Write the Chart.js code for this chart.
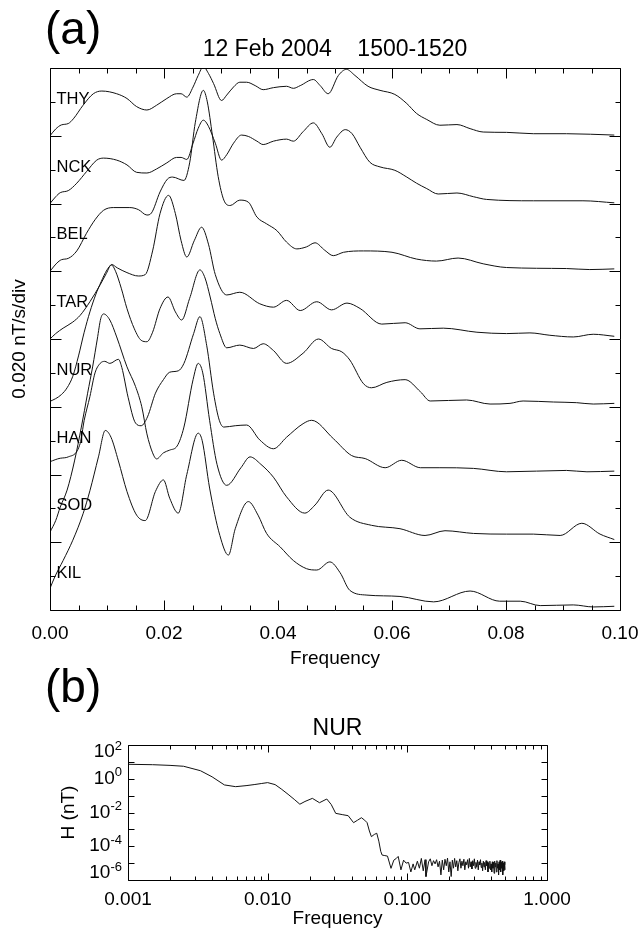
<!DOCTYPE html>
<html><head><meta charset="utf-8">
<script src="https://cdn.jsdelivr.net/npm/chart.js@4.4.1/dist/chart.umd.min.js"></script>
<style>
html,body{margin:0;padding:0;background:#fff;}
#wrap{position:relative;width:640px;height:931px;overflow:hidden;background:#fff;}
#ca{position:absolute;left:0;top:0;width:640px;height:680px;}
#cb{position:absolute;left:0;top:680px;width:640px;height:251px;}
.plab{position:absolute;left:45px;font-family:'Liberation Sans',Arial,sans-serif;font-size:46px;line-height:46px;color:#000;}
</style></head><body>
<div id="wrap">
<canvas id="ca" width="640" height="680"></canvas>
<canvas id="cb" width="640" height="251"></canvas>
<div class="plab" style="top:5px">(a)</div>
<div class="plab" style="top:663px">(b)</div>
</div>
<script>
// ---------- Panel (a): dH/dt amplitude spectra, nT/s, stacked 0.020 nT/s per division ----------
const titleA = '12 Feb 2004    1500-1520';
const stationNames = ['THY','NCK','BEL','TAR','NUR','HAN','SOD','KIL'];
const DIV = 0.020; // nT/s per division
const THY = [[0,0],[0.001,0.0020],[0.002,0.0032],[0.0032,0.0036],[0.0041,0.0050],[0.0058,0.0090],[0.0076,0.0124],[0.0091,0.0132],[0.0117,0.0124],[0.0135,0.0110],[0.0152,0.0086],[0.017,0.0076],[0.0187,0.0090],[0.0205,0.0110],[0.0222,0.0124],[0.023,0.0124],[0.024,0.0114],[0.0251,0.0144],[0.026,0.0178],[0.0269,0.0204],[0.0278,0.0184],[0.0287,0.0154],[0.0301,0.0104],[0.031,0.0120],[0.0322,0.0144],[0.0333,0.0158],[0.0345,0.0158],[0.036,0.0148],[0.0374,0.0136],[0.0392,0.0142],[0.0415,0.0146],[0.0427,0.0140],[0.0439,0.0148],[0.0462,0.0166],[0.0474,0.0148],[0.0488,0.0124],[0.0506,0.0178],[0.052,0.0196],[0.0535,0.0178],[0.0558,0.0146],[0.0579,0.0134],[0.0605,0.0122],[0.0626,0.0095],[0.0643,0.0066],[0.0661,0.0048],[0.0684,0.0031],[0.0714,0.0033],[0.0737,0.0021],[0.076,0.0011],[0.0801,0.0010],[0.0848,0.0006],[0.0906,0.0006],[0.099,0.0002]];
const NCK = [[0,0],[0.001,0.0020],[0.0018,0.0032],[0.0032,0.0038],[0.0047,0.0060],[0.0064,0.0094],[0.0082,0.0128],[0.0094,0.0134],[0.0117,0.0128],[0.0135,0.0114],[0.0152,0.0092],[0.017,0.0090],[0.0187,0.0102],[0.0205,0.0120],[0.0222,0.0136],[0.023,0.0136],[0.024,0.0130],[0.0251,0.0178],[0.026,0.0222],[0.0269,0.0246],[0.0278,0.0228],[0.029,0.0178],[0.0301,0.0128],[0.031,0.0144],[0.0322,0.0178],[0.0336,0.0202],[0.0348,0.0198],[0.0363,0.0184],[0.0374,0.0174],[0.0392,0.0184],[0.0415,0.0190],[0.0427,0.0184],[0.0444,0.0212],[0.0462,0.0238],[0.0477,0.0206],[0.0491,0.0166],[0.0503,0.0196],[0.0518,0.0218],[0.053,0.0206],[0.0544,0.0166],[0.0561,0.0122],[0.0579,0.0108],[0.0605,0.0098],[0.0626,0.0078],[0.0643,0.0060],[0.0661,0.0044],[0.0681,0.0028],[0.0714,0.0031],[0.0743,0.0020],[0.0766,0.0012],[0.0848,0.0008],[0.0935,0.0008],[0.099,0.0002]];
const BEL = [[0,0],[0.0012,0.0024],[0.002,0.0034],[0.0032,0.0038],[0.0047,0.0060],[0.0064,0.0112],[0.0079,0.0152],[0.0094,0.0180],[0.0111,0.0188],[0.014,0.0188],[0.0155,0.0182],[0.017,0.0166],[0.0178,0.0172],[0.0193,0.0234],[0.0206,0.0272],[0.0215,0.0278],[0.0235,0.0268],[0.0245,0.0320],[0.0255,0.0440],[0.0269,0.0534],[0.0276,0.0500],[0.0285,0.0400],[0.0295,0.0280],[0.0305,0.0210],[0.0316,0.0194],[0.0333,0.0210],[0.0348,0.0204],[0.0363,0.0160],[0.038,0.0140],[0.0398,0.0120],[0.0415,0.0086],[0.0433,0.0066],[0.045,0.0072],[0.0465,0.0084],[0.0482,0.0062],[0.0497,0.0046],[0.0515,0.0056],[0.055,0.0060],[0.06,0.0056],[0.0643,0.0036],[0.0678,0.0030],[0.0716,0.0039],[0.076,0.0022],[0.0801,0.0011],[0.0906,0.0008],[0.0947,0.0005],[0.099,0.0007]];
const TAR = [[0,0],[0.001,0.0016],[0.0023,0.0032],[0.004,0.0050],[0.0053,0.0070],[0.007,0.0110],[0.0088,0.0160],[0.0099,0.0194],[0.0108,0.0220],[0.0118,0.0210],[0.0135,0.0196],[0.0155,0.0186],[0.0167,0.0190],[0.018,0.0260],[0.0193,0.0370],[0.0208,0.0424],[0.022,0.0370],[0.023,0.0290],[0.024,0.0242],[0.0253,0.0290],[0.0266,0.0330],[0.0278,0.0280],[0.029,0.0190],[0.031,0.0130],[0.0333,0.0138],[0.0368,0.0104],[0.0392,0.0094],[0.0415,0.0114],[0.0439,0.0084],[0.0468,0.0110],[0.0494,0.0086],[0.0521,0.0106],[0.0544,0.0090],[0.0582,0.0044],[0.0623,0.0048],[0.0649,0.0030],[0.069,0.0032],[0.0749,0.0020],[0.0801,0.0016],[0.0842,0.0018],[0.0877,0.0011],[0.0918,0.0006],[0.0953,0.0014],[0.099,0.0008]];
const NUR = [[0,0.0016],[0.001,0.0024],[0.002,0.0036],[0.003,0.0056],[0.004,0.0090],[0.005,0.0150],[0.006,0.0220],[0.007,0.0280],[0.008,0.0330],[0.009,0.0370],[0.010,0.0404],[0.0108,0.0418],[0.0115,0.0400],[0.0125,0.0350],[0.0135,0.0290],[0.0148,0.0230],[0.016,0.0196],[0.017,0.0192],[0.018,0.0220],[0.0193,0.0290],[0.0207,0.0324],[0.022,0.0280],[0.0231,0.0256],[0.0245,0.0320],[0.0263,0.0404],[0.0272,0.0380],[0.0281,0.0324],[0.029,0.0260],[0.0298,0.0216],[0.031,0.0174],[0.0333,0.0182],[0.0357,0.0172],[0.0374,0.0186],[0.0392,0.0166],[0.0415,0.0128],[0.0444,0.0158],[0.0471,0.0200],[0.0494,0.0172],[0.0512,0.0162],[0.0526,0.0138],[0.055,0.0068],[0.0564,0.0056],[0.0591,0.0072],[0.0623,0.0080],[0.065,0.0044],[0.0667,0.0017],[0.0731,0.0020],[0.0772,0.0008],[0.0807,0.0010],[0.083,0.0017],[0.0883,0.0014],[0.0924,0.0012],[0.0953,0.0008],[0.099,0.0010]];
const HAN = [[0,0.0038],[0.0018,0.0048],[0.0032,0.0052],[0.0053,0.0092],[0.006,0.0160],[0.007,0.0230],[0.0079,0.0300],[0.0088,0.0328],[0.0096,0.0334],[0.0105,0.0328],[0.012,0.0340],[0.0126,0.0316],[0.0137,0.0228],[0.015,0.0152],[0.016,0.0144],[0.0171,0.0170],[0.0185,0.0240],[0.0199,0.0280],[0.021,0.0302],[0.0225,0.0306],[0.0235,0.0328],[0.0252,0.0416],[0.0263,0.0466],[0.0275,0.0380],[0.0287,0.0240],[0.0297,0.0160],[0.0305,0.0140],[0.0325,0.0144],[0.0345,0.0146],[0.0368,0.0102],[0.0392,0.0076],[0.0415,0.0110],[0.0444,0.0150],[0.0459,0.0160],[0.0497,0.0106],[0.0529,0.0056],[0.0553,0.0047],[0.0588,0.0020],[0.0617,0.0042],[0.065,0.0020],[0.0684,0.0020],[0.0743,0.0018],[0.0801,0.0008],[0.0906,0.0012],[0.0942,0.0008],[0.099,0.0010]];
const SOD = [[0,0.0030],[0.001,0.0064],[0.0018,0.0104],[0.003,0.0154],[0.0043,0.0240],[0.0055,0.0340],[0.0066,0.0440],[0.0075,0.0520],[0.0083,0.0600],[0.0089,0.0660],[0.0094,0.0674],[0.0105,0.0656],[0.0117,0.0606],[0.0135,0.0518],[0.015,0.0460],[0.0161,0.0400],[0.017,0.0320],[0.018,0.0264],[0.0187,0.0246],[0.0199,0.0264],[0.021,0.0272],[0.0223,0.0284],[0.0235,0.0340],[0.0251,0.0480],[0.026,0.0528],[0.0268,0.0500],[0.028,0.0360],[0.0293,0.0230],[0.031,0.0168],[0.0335,0.0220],[0.0351,0.0252],[0.037,0.0230],[0.0392,0.0192],[0.0415,0.0134],[0.0447,0.0086],[0.0465,0.0110],[0.0488,0.0154],[0.0526,0.0074],[0.0564,0.0050],[0.0614,0.0040],[0.0658,0.0020],[0.0693,0.0034],[0.0743,0.0026],[0.0801,0.0024],[0.0848,0.0024],[0.0895,0.0020],[0.0933,0.0056],[0.0965,0.0024],[0.099,0.0008]];
const KIL = [[0,0.0064],[0.0009,0.0100],[0.0023,0.0146],[0.004,0.0206],[0.0058,0.0284],[0.007,0.0352],[0.0085,0.0452],[0.0097,0.0530],[0.0107,0.0510],[0.012,0.0440],[0.0135,0.0350],[0.0152,0.0280],[0.0167,0.0264],[0.0185,0.0350],[0.0199,0.0384],[0.021,0.0330],[0.0225,0.0286],[0.024,0.0400],[0.026,0.0522],[0.0267,0.0500],[0.028,0.0360],[0.0298,0.0220],[0.0313,0.0162],[0.0325,0.0240],[0.0348,0.0320],[0.0365,0.0280],[0.038,0.0226],[0.0404,0.0186],[0.0427,0.0146],[0.045,0.0122],[0.0468,0.0118],[0.0491,0.0142],[0.0509,0.0110],[0.0526,0.0058],[0.0556,0.0044],[0.0614,0.0040],[0.0673,0.0024],[0.0737,0.0056],[0.0789,0.0026],[0.0825,0.0026],[0.086,0.0013],[0.0918,0.0015],[0.0953,0.0009],[0.099,0.0011]];
const stationSpectra = [THY, NCK, BEL, TAR, NUR, HAN, SOD, KIL];
const xMajorA = [0, 0.02, 0.04, 0.06, 0.08, 0.10];
const xMinorA = [0.005,0.010,0.015,0.025,0.030,0.035,0.045,0.050,0.055,0.065,0.070,0.075,0.085,0.090,0.095];
const yMajorA = [0,0.02,0.04,0.06,0.08,0.10,0.12,0.14,0.16];
const yMinorA = [0.01,0.03,0.05,0.07,0.09,0.11,0.13,0.15];

// ---------- Panel (b): NUR amplitude spectrum, nT ----------
const titleB = 'NUR';
const nurSpectrum = [[0.001,7.2],[0.0015,6.8],[0.002,6.2],[0.0025,5.5],[0.0033,3.0],[0.004,1.3],[0.0049,0.43],[0.0059,0.34],[0.007,0.39],[0.008,0.45],[0.009,0.52],[0.010,0.59],[0.0113,0.45],[0.0125,0.25],[0.014,0.12],[0.0155,0.06],[0.017,0.031],[0.0185,0.045],[0.0209,0.069],[0.0235,0.038],[0.0265,0.063],[0.0285,0.03],[0.0307,0.0089],[0.0345,0.0074],[0.0377,0.0065],[0.0412,0.0025],[0.044,0.0035],[0.0469,0.0049],[0.0495,0.0035],[0.0515,0.0025],[0.0535,0.0008],[0.0553,0.00037],[0.058,0.0005],[0.0604,0.00059],[0.0625,0.0002],[0.0645,0.00005],[0.066,0.00003],[0.069,0.000028],[0.0721,0.000026],[0.0764,0.0000049],[0.08,0.000015],[0.0834,0.000019],
[0.086,2.5e-5],[0.090,4.0e-6],[0.094,1.5e-5],[0.098,1.0e-5],[0.102,1.1e-5],[0.106,3.0e-6],[0.110,9.0e-6],[0.113,4.0e-6],[0.118,1.3e-5],[0.122,5.0e-6],[0.126,1.9e-5],[0.130,3.5e-6],[0.134,1.6e-5],[0.136,1.6e-6],[0.142,1.2e-5],[0.146,1.8e-5],[0.150,7.0e-6],[0.154,1.4e-5],[0.158,9.0e-6],[0.162,1.6e-5],[0.166,6.0e-6],[0.170,1.3e-5],[0.174,2.0e-6],[0.178,1.5e-5],[0.182,4.0e-6],[0.186,1.7e-5],[0.190,7.0e-6],[0.194,2.0e-5],[0.198,3.0e-6],[0.202,1.2e-5],[0.206,1.6e-6],[0.210,1.5e-5],[0.214,5.0e-6],[0.218,1.9e-5],[0.222,6.0e-6],[0.226,1.4e-5],[0.230,3.5e-6],[0.234,1.1e-5],[0.238,1.8e-5],[0.242,5.0e-6],[0.246,1.3e-5],[0.250,7.0e-6],[0.254,1.7e-5],[0.258,4.0e-6],[0.262,1.2e-5],[0.266,8.0e-6],[0.270,1.6e-5],[0.274,5.0e-6],[0.278,1.9e-5],[0.282,6.0e-6],[0.286,1.2e-5],[0.290,4.5e-6],[0.294,1.4e-5],[0.298,7.0e-6],[0.302,1.8e-5],[0.306,5.0e-6],[0.310,1.1e-5],[0.314,6.0e-6],[0.318,1.5e-5],[0.322,4.0e-6],[0.326,1.2e-5],[0.330,8.0e-6],[0.334,1.6e-5],[0.338,5.5e-6],[0.342,1.0e-5],[0.346,3.5e-6],[0.350,1.3e-5],[0.354,6.0e-6],[0.358,1.1e-5],[0.362,4.0e-6],[0.366,1.4e-5],[0.370,7.0e-6],[0.374,1.2e-5],[0.378,3.0e-6],[0.382,1.0e-5],[0.386,5.0e-6],[0.390,1.3e-5],[0.394,4.0e-6],[0.398,9.0e-6],[0.402,3.0e-6],[0.406,1.2e-5],[0.410,5.0e-6],[0.414,1.1e-5],[0.418,2.5e-6],[0.422,1.3e-5],[0.426,6.0e-6],[0.430,1.0e-5],[0.434,3.0e-6],[0.438,1.4e-5],[0.442,5.0e-6],[0.446,9.0e-6],[0.450,2.0e-6],[0.454,1.2e-5],[0.458,4.0e-6],[0.462,1.5e-5],[0.466,3.0e-6],[0.470,1.1e-5],[0.474,5.0e-6],[0.478,1.3e-5],[0.482,2.0e-6],[0.486,1.0e-5],[0.490,3.5e-6],[0.494,1.2e-5],[0.498,4.0e-6],[0.500,8.0e-6]];
const xMajorB = [0.001, 0.01, 0.1, 1];
const xMinorB = [0.002,0.003,0.004,0.005,0.006,0.007,0.008,0.009,0.02,0.03,0.04,0.05,0.06,0.07,0.08,0.09,0.2,0.3,0.4,0.5,0.6,0.7,0.8,0.9];
const yTicksB = [1e-6,1e-5,1e-4,1e-3,1e-2,1e-1,1,10,100];
const yLabelValsB = [100, 1, 1e-2, 1e-4, 1e-6];
const yLabelExpB = ['2','0','-2','-4','-6'];

const FONT = "'Liberation Sans', Arial, Helvetica, sans-serif";

function frameTicks(id, xMaj, xMin, yMaj, yMin, lens) {
  return { id, afterDraw(chart) {
    const {ctx, chartArea:{left,right,top,bottom}, scales:{x,y}} = chart;
    const L = Math.round(left)+0.5, R = Math.round(right)+0.5, T = Math.round(top)+0.5, B = Math.round(bottom)+0.5;
    ctx.save(); ctx.strokeStyle = '#000'; ctx.lineWidth = 1;
    ctx.beginPath(); ctx.moveTo(L,T); ctx.lineTo(R,T); ctx.lineTo(R,B); ctx.lineTo(L,B); ctx.closePath(); ctx.stroke();
    ctx.beginPath();
    const xt = (arr, len) => arr.forEach(v => { const p = Math.round(x.getPixelForValue(v))+0.5; ctx.moveTo(p,B); ctx.lineTo(p,B-len); ctx.moveTo(p,T); ctx.lineTo(p,T+len); });
    const yt = (arr, len) => arr.forEach(v => { const p = Math.round(y.getPixelForValue(v))+0.5; ctx.moveTo(L,p); ctx.lineTo(L+len,p); ctx.moveTo(R,p); ctx.lineTo(R-len,p); });
    xt(xMaj, lens[0]); xt(xMin, lens[1]); yt(yMaj, lens[2]); yt(yMin, lens[3]);
    ctx.stroke(); ctx.restore();
  }};
}

const stationLabels = { id:'stationLabels', afterDatasetsDraw(chart) {
  const {ctx, chartArea, scales:{y}} = chart;
  ctx.save(); ctx.fillStyle = '#000'; ctx.font = '16.5px ' + FONT; ctx.textAlign = 'left'; ctx.textBaseline = 'alphabetic';
  stationNames.forEach((n, i) => {
    const base = (stationNames.length - 1 - i) * DIV;
    const py = y.getPixelForValue(base + DIV / 2);
    ctx.fillText(n, chartArea.left + 6.5, py + 2);
  });
  ctx.restore();
}};

const datasetsA = stationSpectra.map((pts, i) => {
  const base = (stationNames.length - 1 - i) * DIV;
  return { label: stationNames[i], data: pts.map(([f, v]) => ({x: f, y: v + base})),
    borderColor: '#111', borderWidth: 1, pointRadius: 0, fill: false, cubicInterpolationMode: 'monotone' };
});

const noSidePad = s => { s.paddingLeft = 0; s.paddingRight = 0; };

new Chart(document.getElementById('ca'), {
  type: 'line',
  data: { datasets: datasetsA },
  options: {
    responsive: false, animation: false, events: [],
    layout: { padding: { left: 0, right: 20, top: 0, bottom: 0 } },
    plugins: { legend: { display: false }, tooltip: { enabled: false },
      title: { display: true, fullSize: false, text: titleA, color: '#000', font: { family: FONT, size: 23, weight: 'normal' }, padding: { top: 36, bottom: 4.4 } } },
    scales: {
      x: { type: 'linear', min: 0, max: 0.1,
        afterBuildTicks: s => { s.ticks = xMajorA.map(v => ({ value: v })); },
        afterFit: s => { s.height = 70; noSidePad(s); },
        ticks: { color: '#000', font: { family: FONT, size: 19 }, padding: 12, maxRotation: 0, autoSkip: false, callback: v => Number(v).toFixed(2) },
        grid: { display: false, drawTicks: false }, border: { display: false },
        title: { display: true, text: 'Frequency', color: '#000', font: { family: FONT, size: 19 }, padding: { top: 0, bottom: 10 } } },
      y: { type: 'linear', min: 0, max: 0.16,
        afterFit: s => { s.width = 50; },
        ticks: { display: false }, grid: { display: false, drawTicks: false }, border: { display: false },
        title: { display: true, text: '0.020 nT/s/div', color: '#000', font: { family: FONT, size: 19 }, padding: { top: 8.6, bottom: 0 } } }
    }
  },
  plugins: [frameTicks('frameA', xMajorA, xMinorA, yMajorA, yMinorA, [10, 5, 11, 5]), stationLabels]
});

const yLabelsB = { id: 'yLabelsB', afterDraw(chart) {
  const {ctx, chartArea:{left,top,bottom}, scales:{y}} = chart;
  ctx.save(); ctx.fillStyle = '#000'; ctx.textAlign = 'right'; ctx.textBaseline = 'middle';
  yLabelValsB.forEach((v, i) => {
    let py = y.getPixelForValue(v);
    py = Math.min(Math.max(py, top + 7), bottom - 7);
    const xr = left - 6;
    ctx.font = '13px ' + FONT; const e = yLabelExpB[i]; const ew = ctx.measureText(e).width;
    ctx.fillText(e, xr, py - 6);
    ctx.font = '19px ' + FONT; ctx.fillText('10', xr - ew, py);
  });
  ctx.restore();
}};

new Chart(document.getElementById('cb'), {
  type: 'line',
  data: { datasets: [{ label: 'NUR', data: nurSpectrum.map(([f, h]) => ({x: f, y: h})), borderColor: '#111', borderWidth: 1, pointRadius: 0, tension: 0, fill: false }] },
  options: {
    responsive: false, animation: false, events: [],
    layout: { padding: { left: 0, right: 93, top: 0, bottom: 0 } },
    plugins: { legend: { display: false }, tooltip: { enabled: false },
      title: { display: true, fullSize: false, text: titleB, color: '#000', font: { family: FONT, size: 23, weight: 'normal' }, padding: { top: 35, bottom: 2.4 } } },
    scales: {
      x: { type: 'logarithmic', min: 0.001, max: 1,
        afterBuildTicks: s => { s.ticks = xMajorB.map(v => ({ value: v })); },
        afterFit: s => { s.height = 51; noSidePad(s); },
        ticks: { color: '#000', font: { family: FONT, size: 19 }, padding: 8, maxRotation: 0, autoSkip: false, callback: v => Number(v).toFixed(3) },
        grid: { display: false, drawTicks: false }, border: { display: false },
        title: { display: true, text: 'Frequency', color: '#000', font: { family: FONT, size: 19 }, padding: { top: 0, bottom: 0.6 } } },
      y: { type: 'logarithmic', min: 1e-6, max: 100,
        afterFit: s => { s.width = 128; },
        ticks: { display: false }, grid: { display: false, drawTicks: false }, border: { display: false },
        title: { display: true, text: 'H (nT)', color: '#000', font: { family: FONT, size: 19 }, padding: { top: 57.6, bottom: 0 } } }
    }
  },
  plugins: [frameTicks('frameB', xMajorB, xMinorB, yTicksB, [], [7, 4, 6, 0]), yLabelsB]
});
</script>
</body></html>
